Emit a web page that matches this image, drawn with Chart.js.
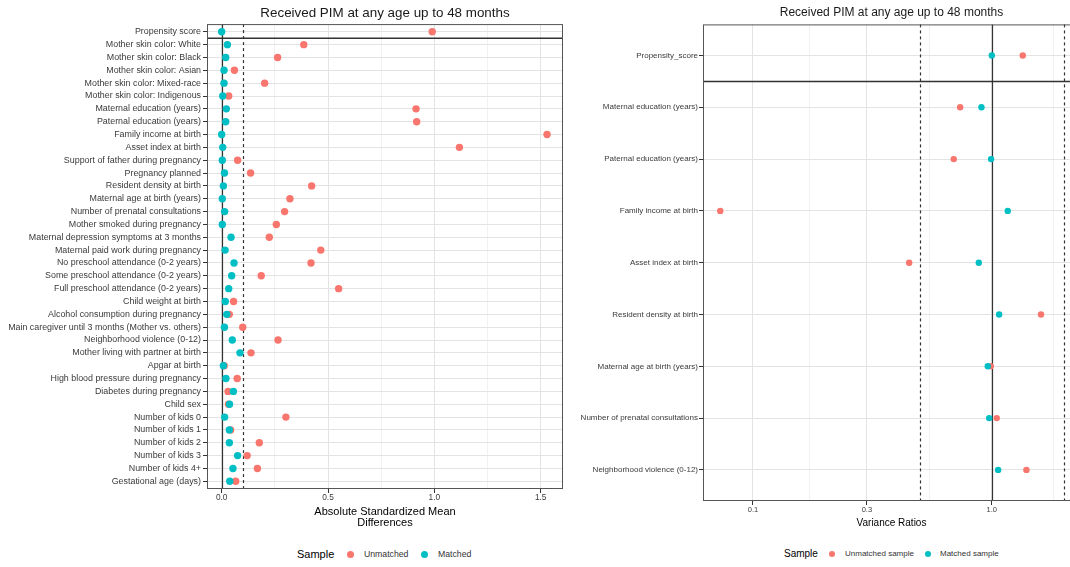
<!DOCTYPE html>
<html>
<head>
<meta charset="utf-8">
<title>Love plot</title>
<script src="https://cdn.jsdelivr.net/npm/chart.js@4.4.1/dist/chart.umd.min.js"></script>
<style>
body { margin: 0; width: 1070px; height: 567px; overflow: hidden; background: #fff; position: relative;
  font-family: "Liberation Sans", Arial, sans-serif; }
#asmd { position: absolute; left: 0; top: 0; }
#vr { position: absolute; left: 575px; top: 0; }
.lg { position: absolute; white-space: nowrap; line-height: 14px; top: 547px; color: #333; }
.lg.t { color: #000; }
.dot { position: absolute; width: 7px; height: 7px; border-radius: 50%; top: 550.5px; }
</style>
</head>
<body>
<canvas id="asmd" width="575" height="535"></canvas>
<canvas id="vr" width="510" height="535"></canvas>

<span class="lg t" style="left:297px;font-size:11px">Sample</span>
<span class="dot" style="left:346.5px;background:#F8766D"></span>
<span class="lg" style="left:364px;font-size:8.7px">Unmatched</span>
<span class="dot" style="left:420.5px;background:#00BFC4"></span>
<span class="lg" style="left:438px;font-size:8.7px">Matched</span>

<span class="lg t" style="left:784px;font-size:10px">Sample</span>
<span class="dot" style="left:828.5px;width:6px;height:6px;background:#F8766D"></span>
<span class="lg" style="left:845px;font-size:8px">Unmatched sample</span>
<span class="dot" style="left:924.5px;width:6px;height:6px;background:#00BFC4"></span>
<span class="lg" style="left:940px;font-size:8px">Matched sample</span>

<script>
// covariates, left panel (absolute standardized mean differences)
var leftLabels = ["Propensity score", "Mother skin color: White", "Mother skin color: Black",
  "Mother skin color: Asian", "Mother skin color: Mixed-race", "Mother skin color: Indigenous",
  "Maternal education (years)", "Paternal education (years)", "Family income at birth",
  "Asset index at birth", "Support of father during pregnancy", "Pregnancy planned",
  "Resident density at birth", "Maternal age at birth (years)", "Number of prenatal consultations",
  "Mother smoked during pregnancy", "Maternal depression symptoms at 3 months",
  "Maternal paid work during pregnancy", "No preschool attendance (0-2 years)",
  "Some preschool attendance (0-2 years)", "Full preschool attendance (0-2 years)",
  "Child weight at birth", "Alcohol consumption during pregnancy",
  "Main caregiver until 3 months (Mother vs. others)", "Neighborhood violence (0-12)",
  "Mother living with partner at birth", "Apgar at birth", "High blood pressure during pregnancy",
  "Diabetes during pregnancy", "Child sex", "Number of kids 0", "Number of kids 1",
  "Number of kids 2", "Number of kids 3", "Number of kids 4+", "Gestational age (days)"];
var asmdUnmatched = [0.99, 0.386, 0.263, 0.06, 0.202, 0.033, 0.914, 0.917, 1.53, 1.118,
  0.075, 0.136, 0.423, 0.321, 0.296, 0.257, 0.224, 0.466, 0.42, 0.186,
  0.55, 0.056, 0.036, 0.099, 0.265, 0.138, 0.012, 0.073, 0.030, 0.032,
  0.302, 0.042, 0.177, 0.120, 0.168, 0.066];
var asmdMatched = [0.0, 0.027, 0.019, 0.011, 0.011, 0.005, 0.022, 0.019, 0.0, 0.005,
  0.003, 0.013, 0.008, 0.003, 0.014, 0.003, 0.044, 0.016, 0.058, 0.047,
  0.033, 0.017, 0.024, 0.013, 0.05, 0.086, 0.008, 0.02, 0.055, 0.037,
  0.014, 0.036, 0.036, 0.075, 0.053, 0.038];
var asmdTicks = [0, 0.25, 0.5, 0.75, 1, 1.25, 1.5];
var asmdMajor = [0, 0.5, 1, 1.5];

// right panel (variance ratios)
var rightLabels = ["Propensity_score", "Maternal education (years)", "Paternal education (years)",
  "Family income at birth", "Asset index at birth", "Resident density at birth",
  "Maternal age at birth (years)", "Number of prenatal consultations", "Neighborhood violence (0-12)"];
var vrUnmatched = [1.348, 0.737, 0.693, 0.073, 0.451, 1.607, 0.99, 1.049, 1.396];
var vrMatched = [1.0, 0.905, 0.993, 1.166, 0.882, 1.073, 0.962, 0.975, 1.063];
var vrTicks = [0.1, 0.173, 0.3, 0.548, 1, 1.82];
var vrMajor = [0.1, 0.3, 1];

var titleText = "Received PIM at any age up to 48 months";
var RED = "#F8766D", TEAL = "#00BFC4";

Chart.defaults.font.family = '"Liberation Sans", Arial, sans-serif';
Chart.defaults.color = "#3A3A3A";

function toPoints(vals) {
    return vals.map(function (v, i) { return { x: v, y: i }; });
}

// threshold lines, separator under first row, panel border
var refLines = {
    id: "refLines",
    beforeDatasetsDraw: function (chart, args, opts) {
        var ctx = chart.ctx, a = chart.chartArea, xs = chart.scales.x, ys = chart.scales.y;
        function line(x1, y1, x2, y2) { ctx.beginPath(); ctx.moveTo(x1, y1); ctx.lineTo(x2, y2); ctx.stroke(); }
        ctx.save();
        ctx.strokeStyle = "#333333";
        ctx.lineWidth = 1.2;
        (opts.solid || []).forEach(function (v) {
            var px = Math.round(xs.getPixelForValue(v)) + 0.5;
            line(px, a.top, px, a.bottom);
        });
        ctx.setLineDash([3, 3]);
        (opts.dashed || []).forEach(function (v) {
            var px = Math.round(xs.getPixelForValue(v)) + 0.5;
            line(px, a.top, px, a.bottom);
        });
        ctx.setLineDash([]);
        ctx.lineWidth = 1.5;
        var py = ys.getPixelForValue(opts.sep);
        line(a.left, py, a.right, py);
        ctx.lineWidth = 1;
        ctx.strokeStyle = "#555555";
        ctx.strokeRect(a.left + 0.5, a.top + 0.5, a.right - a.left - 1, a.bottom - a.top - 1);
        ctx.restore();
    }
};

function makeChart(id, o) {
    return new Chart(document.getElementById(id), {
        type: "scatter",
        data: {
            datasets: [
                // matched drawn above unmatched (lower order = on top)
                { label: o.names[0], order: 1, data: toPoints(o.unmatched), backgroundColor: RED, pointRadius: o.r, borderWidth: 0 },
                { label: o.names[1], order: 0, data: toPoints(o.matched), backgroundColor: TEAL, pointRadius: o.r, borderWidth: 0 }
            ]
        },
        options: {
            responsive: false,
            animation: false,
            events: [],
            layout: { padding: { left: 0, right: o.padRight, top: 0, bottom: 0 } },
            plugins: {
                legend: { display: false },
                tooltip: { enabled: false },
                title: {
                    display: true, text: titleText, fullSize: false, color: "#1a1a1a",
                    font: { size: o.titleSize, weight: "normal", lineHeight: 1.2 },
                    padding: { top: o.titleTop, bottom: 24 - o.titleTop - Math.round(o.titleSize * 1.2) }
                },
                refLines: { solid: o.solid, dashed: o.dashed, sep: 0.5 }
            },
            scales: {
                x: {
                    type: o.xType, min: o.xMin, max: o.xMax,
                    afterBuildTicks: function (s) { s.ticks = o.xTicks.map(function (v) { return { value: v }; }); },
                    afterFit: function (s) { s.height = o.xHeight; },
                    border: { display: false },
                    grid: {
                        color: function (c) { return o.xMajor.indexOf(c.tick.value) >= 0 ? "#E3E3E3" : "#F1F1F1"; },
                        tickColor: function (c) { return o.xMajor.indexOf(c.tick.value) >= 0 ? "#333333" : "rgba(0,0,0,0)"; },
                        tickLength: 4
                    },
                    ticks: {
                        autoSkip: false, maxRotation: 0, padding: 0,
                        font: { size: o.tickSize },
                        callback: function (v) { return o.xMajor.indexOf(v) >= 0 ? v.toFixed(1) : ""; }
                    },
                    title: {
                        display: true, text: o.xTitle, color: "#000",
                        font: { size: o.xTitleSize, lineHeight: 1.0 },
                        padding: { top: 0, bottom: 7 }
                    }
                },
                y: {
                    type: "linear", reverse: true, min: -0.6, max: o.labels.length - 0.4,
                    afterBuildTicks: function (s) { s.ticks = o.labels.map(function (l, i) { return { value: i }; }); },
                    afterFit: function (s) { s.width = o.yWidth; },
                    border: { display: false },
                    grid: { color: "#E3E3E3", tickColor: "#333333", tickLength: 4 },
                    ticks: {
                        autoSkip: false, padding: o.yPad,
                        font: { size: o.labelSize },
                        callback: function (v) { return o.labels[v]; }
                    }
                }
            }
        },
        plugins: [refLines]
    });
}

makeChart("asmd", {
    names: ["Unmatched", "Matched"],
    labels: leftLabels, unmatched: asmdUnmatched, matched: asmdMatched,
    xType: "linear", xMin: -0.069, xMax: 1.605, xTicks: asmdTicks, xMajor: asmdMajor,
    solid: [0], dashed: [0.1],
    xTitle: ["Absolute Standardized Mean", "Differences"], xTitleSize: 11, xHeight: 46,
    yWidth: 207, yPad: 2, padRight: 12, r: 3.7,
    titleSize: 13.4, titleTop: 5, tickSize: 8.3, labelSize: 8.9
});

makeChart("vr", {
    names: ["Unmatched sample", "Matched sample"],
    labels: rightLabels, unmatched: vrUnmatched, matched: vrMatched,
    xType: "logarithmic", xMin: 0.0618, xMax: 2.34, xTicks: vrTicks, xMajor: vrMajor,
    solid: [1], dashed: [0.5, 2],
    xTitle: "Variance Ratios", xTitleSize: 10, xHeight: 34,
    yWidth: 128, yPad: 1, padRight: 5, r: 3.2,
    titleSize: 12, titleTop: 5, tickSize: 7.5, labelSize: 8
});
</script>
</body>
</html>
